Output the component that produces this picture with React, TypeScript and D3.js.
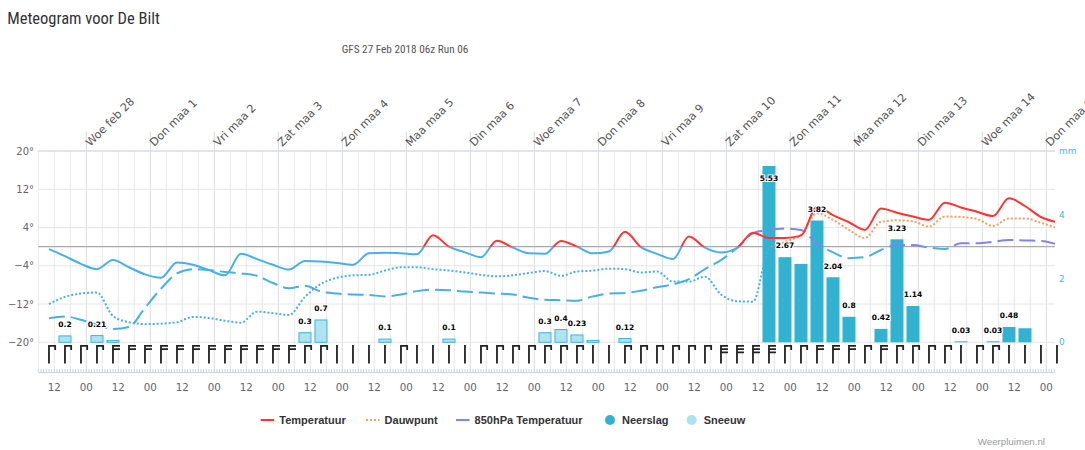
import React from 'react';
import * as d3 from 'd3';

// ---------- data ----------
const dayLabels = [
  'Woe feb 28', 'Don maa 1', 'Vri maa 2', 'Zat maa 3', 'Zon maa 4', 'Maa maa 5',
  'Din maa 6', 'Woe maa 7', 'Don maa 8', 'Vri maa 9', 'Zat maa 10', 'Zon maa 11',
  'Maa maa 12', 'Din maa 13', 'Woe maa 14', 'Don maa 15',
];

const temperature = [
  -0.5, -2.0, -3.6, -4.7, -2.8, -4.3, -5.8, -6.5, -3.3, -3.8, -4.9, -6.0, -1.5, -2.6, -3.8, -4.8,
  -3.0, -3.1, -3.4, -3.8, -1.4, -1.3, -1.4, -1.6, 2.4, 0.0, -1.2, -2.2, 1.25, -0.2, -1.4, -1.5,
  1.2, 0.0, -1.4, -1.0, 3.1, -0.1, -1.5, -2.6, 2.1, -0.2, -1.2, -0.3, 2.9, 1.8, 1.8, 2.3,
  8.3, 6.6, 5.1, 3.5, 8.0, 7.1, 6.3, 5.6, 9.2, 8.2, 7.3, 6.4, 10.1, 8.5, 6.2, 5.1,
];

const dewpoint = [
  -12.0, -10.5, -9.8, -9.6, -14.5, -15.8, -16.2, -16.1, -15.8, -14.7, -14.9, -15.5, -15.9, -13.6, -13.9, -14.3,
  -10.5, -7.8, -6.5, -6.0, -5.9, -5.0, -4.3, -4.3, -4.7, -5.0, -5.4, -5.9, -6.2, -6.0, -5.5, -5.1,
  -6.1, -5.2, -5.0, -4.6, -4.7, -5.4, -5.2, -7.3, -7.3, -6.3, -10.0, -11.4, -11.5, -0.5, 1.0, 2.5,
  7.0, 5.6, 3.5, 1.8, 5.2, 5.5, 5.3, 4.2, 6.3, 6.2, 5.8, 4.3, 5.9, 5.9, 5.0, 3.9,
];

const temp850 = [
  -15.0, -14.6, -15.3, -16.3, -17.2, -16.8, -12.8, -8.8, -5.6, -4.7, -4.9, -5.3, -5.6, -6.1, -7.6, -8.7,
  -8.2, -9.4, -9.8, -10.0, -10.1, -10.4, -10.0, -9.3, -9.0, -9.1, -9.4, -9.6, -9.8, -10.0, -10.7, -11.1,
  -11.2, -11.3, -10.4, -9.8, -9.7, -9.2, -8.5, -7.9, -6.8, -4.7, -2.8, -0.3, 2.8, 3.5, 3.8, 3.5,
  0.6, -1.2, -2.4, -2.2, -0.7, 0.35, 0.35, -0.2, -0.5, 0.7, 0.7, 1.0, 1.4, 1.3, 1.2, 0.5,
];

const rain = [
  0, 0, 0, 0, 0, 0, 0, 0, 0, 0, 0, 0, 0, 0, 0, 0,
  0, 0, 0, 0, 0, 0, 0, 0, 0, 0, 0, 0, 0, 0, 0, 0,
  0, 0, 0, 0, 0, 0, 0, 0, 0, 0, 0, 0, 0, 5.53, 2.67, 2.46,
  3.82, 2.04, 0.8, 0, 0.42, 3.23, 1.14, 0, 0, 0.03, 0, 0.03, 0.48, 0.44, 0, 0,
];

const snow = [
  0, 0.2, 0, 0.21, 0.06, 0, 0, 0, 0, 0, 0, 0, 0, 0, 0, 0,
  0.3, 0.7, 0, 0, 0, 0.1, 0, 0, 0, 0.1, 0, 0, 0, 0, 0, 0.3,
  0.4, 0.23, 0.06, 0, 0.12, 0, 0, 0, 0, 0, 0, 0, 0, 0, 0, 0,
  0, 0, 0, 0, 0, 0, 0, 0, 0, 0, 0, 0, 0, 0, 0, 0,
];

// number of barbs per wind barb glyph
const windBarbs = [
  1, 1, 1, 1, 2, 2, 2, 2, 2, 2, 2, 2, 2, 2, 2, 2,
  1, 1, 0, 0, 0, 0, 1, 0, 0, 0, 0, 1, 1, 1, 1, 1,
  1, 1, 0, 0, 1, 1, 1, 1, 1, 1, 3, 3, 3, 3, 1, 1,
  2, 2, 2, 1, 2, 1, 1, 1, 1, 0, 1, 1, 0, 0, 0, 0,
];

const tempTicks = [-20, -12, -4, 4, 12, 20];
const precipTicks = [0, 2, 4];

const legendItems = [
  { name: 'Temperatuur', kind: 'line', color: '#ff3333', dash: '' },
  { name: 'Dauwpunt', kind: 'line', color: '#f5a05a', dash: '2,2' },
  { name: '850hPa Temperatuur', kind: 'line', color: '#8085e9', dash: '' },
  { name: 'Neerslag', kind: 'dot', color: '#31b2d1', dash: '' },
  { name: 'Sneeuw', kind: 'dot', color: '#a9e3f0', dash: '' },
];

// time stamps
const HOUR = 3600e3;
const axisStart = Date.UTC(2018, 1, 27, 6);
const axisEnd = axisStart + 381.26 * HOUR;
const firstDataTime = Date.UTC(2018, 1, 27, 10);
const times = temperature.map((_, i) => new Date(firstDataTime + i * 6 * HOUR));

// ---------- layout ----------
const W = 1085;
const H = 450;
const plotLeft = 38.3;
const plotRight = 1055;
const plotTop = 151;
const plotBottom = 342.3;
const axisY = 372.5;

const COLD = '#48afe8';
const sans = "'DejaVu Sans', Verdana, sans-serif";
const arial = "'Liberation Sans', Arial, sans-serif";
const narrow = "'Liberation Sans Narrow', 'Roboto Condensed', 'Liberation Sans', Arial, sans-serif";

export default function App() {
  const x = d3.scaleUtc().domain([new Date(axisStart), new Date(axisEnd)]).range([plotLeft, plotRight]);
  const yT = d3.scaleLinear().domain([-20, 20]).range([plotBottom, plotTop]);
  const yP = d3.scaleLinear().domain([0, 6]).range([plotBottom, plotTop]);
  const y0 = yT(0);

  const days = d3.utcDay.range(new Date(Date.UTC(2018, 1, 28)), new Date(Date.UTC(2018, 2, 15, 1)));
  const sixHours = d3.utcHour.every(6)!.range(new Date(axisStart), new Date(axisEnd + 1));
  const twelveHours = d3.utcHour.every(12)!.range(new Date(axisStart), new Date(axisEnd + 1));
  const hours = d3.utcHour.range(new Date(axisStart), new Date(axisEnd + 1));
  const fmtH = d3.utcFormat('%H');

  const line = (vals: number[]) =>
    d3.line<number>()
      .x((_, i) => x(times[i]))
      .y((v) => yT(v))
      .curve(d3.curveMonotoneX)(vals) || '';

  const barW = 13;

  // data labels with collision hiding (taller bar wins)
  type Lbl = { x: number; y: number; text: string; w: number; rank: number };
  const labels: Lbl[] = [];
  const charW = (s: string) => s.split('').reduce((a, c) => a + (c === '.' ? 2.85 : 5.22), 0);
  [rain, snow].forEach((series) => {
    series.forEach((v, i) => {
      if (v <= 0) return;
      const top = yP(v);
      let cy = top - 11.5;
      if (cy - 4.5 < plotTop) cy = top + 12.5;
      const text = String(v);
      labels.push({ x: x(times[i]), y: cy, text, w: charW(text), rank: plotBottom - top });
    });
  });
  const sorted = [...labels].sort((a, b) => b.rank - a.rank);
  const shown: Lbl[] = [];
  sorted.forEach((l) => {
    const hit = shown.some((s) =>
      Math.abs(s.x - l.x) < (s.w + l.w) / 2 - 1 && Math.abs(s.y - l.y) < 9);
    if (!hit) shown.push(l);
  });

  const barbPath = (cx: number, n: number) => {
    let p = `M${cx},345 V363.5`;
    for (let k = 0; k < n; k++) p += ` M${cx},${345.8 + k * 3.3} H${cx + 7}`;
    if (n === 1) p += ` M${cx + 6.2},345 V350`;
    return p;
  };

  let legendX = 260.7;
  const legendPos = [260.7, 366, 456, 605, 686.7];

  return (
    <div style={{ position: 'absolute', left: 0, top: 0, width: W, height: H }}>
      <svg width={W} height={H} viewBox={`0 0 ${W} ${H}`} style={{ display: 'block', background: '#fff' }}>
        <defs>
          <clipPath id="warm">
            <rect x={plotLeft} y={plotTop - 5} width={plotRight - plotLeft} height={y0 - plotTop + 5} />
          </clipPath>
          <clipPath id="cold">
            <rect x={plotLeft} y={y0} width={plotRight - plotLeft} height={plotBottom - y0 + 5} />
          </clipPath>
        </defs>

        {/* title */}
        <text x={7.3} y={24} fontFamily={narrow} fontSize={16} fill="#333"
          textLength={152.7} lengthAdjust="spacingAndGlyphs">Meteogram voor De Bilt</text>
        <text x={341.7} y={53.2} fontFamily={narrow} fontSize={11.5} fill="#555"
          textLength={126.6} lengthAdjust="spacingAndGlyphs">GFS 27 Feb 2018 06z Run 06</text>

        {/* vertical grid lines */}
        {sixHours.map((t, i) => (
          <line key={'g' + i} x1={x(t)} x2={x(t)} y1={plotTop} y2={axisY}
            stroke={t.getUTCHours() === 0 ? '#dadde6' : '#e8e8e8'} strokeWidth={1} />
        ))}
        {/* horizontal grid lines */}
        {tempTicks.map((v) => (
          <line key={'h' + v} x1={plotLeft} x2={plotRight} y1={yT(v)} y2={yT(v)} stroke="#e6e6e6" />
        ))}
        <line x1={plotLeft} x2={plotRight} y1={y0} y2={y0} stroke="#aaa" strokeWidth={1.2} />

        {/* top axis */}
        <line x1={plotLeft} x2={plotRight} y1={plotTop} y2={plotTop} stroke="#ccd6eb" />
        {days.map((d, i) => (
          <g key={'d' + i}>
            <line x1={x(d)} x2={x(d)} y1={131.7} y2={plotTop} stroke="#ccd6eb" />
            <text x={x(d) + 4} y={147} transform={`rotate(-45 ${x(d) + 4} 147)`}
              fontFamily={sans} fontSize={11.2} fill="#555">{dayLabels[i]}</text>
          </g>
        ))}

        {/* bottom axis */}
        <line x1={plotLeft} x2={plotRight} y1={axisY} y2={axisY} stroke="#ccd6eb" />
        {hours.map((t, i) => (
          <line key={'t' + i} x1={x(t)} x2={x(t)} y1={369} y2={axisY} stroke="#ccd6eb" />
        ))}
        {twelveHours.map((t, i) => (
          <text key={'l' + i} x={x(t)} y={391} textAnchor="middle" fontFamily={sans} fontSize={10.3}
            fill="#666">{fmtH(t)}</text>
        ))}

        {/* left axis labels */}
        {tempTicks.map((v) => (
          <text key={'yl' + v} x={34} y={yT(v) + 3.5} textAnchor="end" fontFamily={sans} fontSize={10}
            fill="#666">{(v < 0 ? '\u2212' + Math.abs(v) : String(v)) + '°'}</text>
        ))}
        {/* right axis labels */}
        {precipTicks.map((v) => (
          <text key={'yr' + v} x={1059} y={yP(v) + 3} fontFamily={sans} fontSize={9} fill="#4cb6dc">{v}</text>
        ))}
        <text x={1059} y={yP(6) + 3} fontFamily={sans} fontSize={9} fill="#4cb6dc">mm</text>

        {/* precipitation bars */}
        {rain.map((v, i) => v > 0 ? (
          <rect key={'r' + i} x={x(times[i]) - barW / 2} y={yP(v)} width={barW} height={plotBottom - yP(v)}
            fill="#31b2d1" />
        ) : null)}
        {snow.map((v, i) => v > 0 ? (
          <rect key={'s' + i} x={x(times[i]) - barW / 2 + 0.5} y={yP(v)} width={barW - 1}
            height={plotBottom - yP(v)} fill="#aee4f1" stroke="#3db4d3" strokeWidth={1} />
        ) : null)}

        {/* lines: warm part and cold part */}
        <g clipPath="url(#cold)" fill="none" strokeWidth={2}>
          <path d={line(temp850)} stroke={COLD} strokeDasharray="16,6" />
          <path d={line(dewpoint)} stroke={COLD} strokeDasharray="2,2" />
          <path d={line(temperature)} stroke={COLD} />
        </g>
        <g clipPath="url(#warm)" fill="none" strokeWidth={2}>
          <path d={line(temp850)} stroke="#8085e9" strokeDasharray="16,6" />
          <path d={line(dewpoint)} stroke="#f5a05a" strokeDasharray="2,2" />
          <path d={line(temperature)} stroke="#ff3333" />
        </g>

        {/* data labels */}
        {shown.map((l, i) => (
          <text key={'dl' + i} x={l.x} y={l.y + 2.8} textAnchor="middle" fontFamily={sans} fontWeight="bold"
            fontSize={7.5} fill="#000" stroke="#fff" strokeWidth={2} paintOrder="stroke"
            strokeLinejoin="round">{l.text}</text>
        ))}

        {/* wind barbs */}
        {windBarbs.map((n, i) => (
          <path key={'w' + i} d={barbPath(x(times[i]), n)} stroke="#222" strokeWidth={1.8} fill="none" />
        ))}

        {/* legend */}
        {legendItems.map((it, i) => {
          const lx = legendPos[i];
          return (
            <g key={'lg' + i}>
              {it.kind === 'line' ? (
                <line x1={lx} x2={lx + 13.5} y1={420} y2={420} stroke={it.color} strokeWidth={2}
                  strokeDasharray={it.dash || undefined} />
              ) : (
                <circle cx={lx + 5} cy={420} r={5} fill={it.color} />
              )}
              <text x={lx + (it.kind === 'line' ? 18.6 : 17)} y={424} fontFamily={arial} fontWeight="bold"
                fontSize={11} fill="#333">{it.name}</text>
            </g>
          );
        })}

        {/* credits */}
        <text x={1045} y={445} textAnchor="end" fontFamily={arial} fontSize={9.7} fill="#999">Weerpluimen.nl</text>
      </svg>
    </div>
  );
}
